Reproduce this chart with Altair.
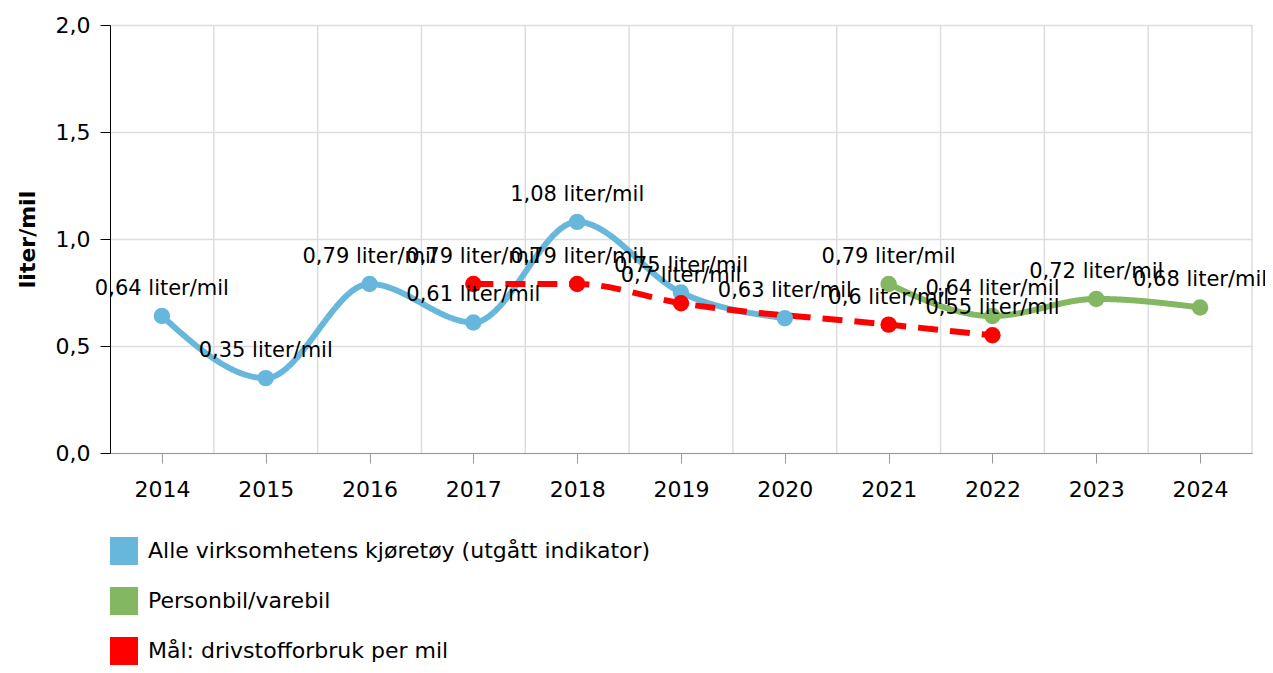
import altair as alt
import pandas as pd

years = [2014, 2015, 2016, 2017, 2018, 2019, 2020, 2021, 2022, 2023, 2024]

s_all = "Alle virksomhetens kjøretøy (utgått indikator)"
s_pb = "Personbil/varebil"
s_goal = "Mål: drivstofforbruk per mil"

all_years = [2014, 2015, 2016, 2017, 2018, 2019, 2020]
all_vals = [0.64, 0.35, 0.79, 0.61, 1.08, 0.75, 0.63]

pb_years = [2021, 2022, 2023, 2024]
pb_vals = [0.79, 0.64, 0.72, 0.68]

goal_years = [2017, 2018, 2019, 2021, 2022]
goal_vals = [0.79, 0.79, 0.70, 0.60, 0.55]

series = [s_all, s_pb, s_goal]
colors = ["#67b7dc", "#84b761", "#ff0000"]
dashes = [[1, 0], [1, 0], [20, 12]]

rows = []
for name, ys, vs in [(s_all, all_years, all_vals), (s_pb, pb_years, pb_vals), (s_goal, goal_years, goal_vals)]:
    for y, v in zip(ys, vs):
        rows.append({"year": y, "value": v, "series": name})
df = pd.DataFrame(rows)

grid_df = pd.DataFrame({"g": [y + 0.5 for y in years]})

FONT = "DejaVu Sans"

xscale = alt.Scale(domain=[years[0] - 0.5, years[-1] + 0.5], nice=False, zero=False)
yscale = alt.Scale(domain=[0, 2], nice=False)
cscale = alt.Scale(domain=series, range=colors)

legend = alt.Legend(title=None, orient="none", legendX=0, legendY=512,
                    direction="vertical", symbolType="square", symbolSize=784,
                    symbolStrokeWidth=0, symbolOpacity=1, labelFontSize=22, labelFont=FONT,
                    labelColor="#000", labelOffset=10, rowPadding=22,
                    labelLimit=800, padding=0)

x_enc = alt.X("year:Q", scale=xscale, title=None,
              axis=alt.Axis(values=years, format="d", grid=False, labelFontSize=22, labelFont=FONT,
                            labelColor="#000", tickColor="#999", domainColor="#999", tickSize=10,
                            labelPadding=16, labelFlush=False))
y_enc = alt.Y("value:Q", scale=yscale, title="liter/mil",
              axis=alt.Axis(values=[0, 0.5, 1.0, 1.5, 2.0],
                            labelExpr="replace(format(datum.value, '.1f'), '.', ',')",
                            labelFontSize=22, labelFont=FONT, labelColor="#000",
                            titleFontSize=22, titleFont=FONT, titleFontWeight="bold", titleColor="#000",
                            titlePadding=16, tickSize=10, tickColor="#000", domainColor="#000",
                            labelPadding=10, gridColor="#dddddd", gridWidth=1.5))

grid = alt.Chart(grid_df).mark_rule(color="#dddddd", strokeWidth=1.5).encode(
    x=alt.X("g:Q", scale=xscale)
)

base = alt.Chart(df)

lines = base.mark_line(interpolate="monotone", strokeWidth=6).encode(
    x=x_enc,
    y=y_enc,
    color=alt.Color("series:N", scale=cscale, legend=legend),
    strokeDash=alt.StrokeDash("series:N", scale=alt.Scale(domain=series, range=dashes), legend=None),
    detail="series:N",
)

points = base.mark_point(filled=True, size=270, opacity=1).encode(
    x="year:Q",
    y="value:Q",
    color=alt.Color("series:N", scale=cscale, legend=legend),
)

labels = base.transform_calculate(
    lab="replace(toString(datum.value), '.', ',') + ' liter/mil'"
).mark_text(fontSize=21, font=FONT, color="#000", dy=-27, baseline="middle").encode(
    x="year:Q",
    y="value:Q",
    text="lab:N",
)

chart = alt.layer(grid, lines, points, labels).properties(
    width=1142, height=428,
    autosize=alt.AutoSizeParams(type="none"),
    padding={"left": 102, "top": 17, "right": 13, "bottom": 212},
).configure_view(stroke=None).configure_axis(labelFont=FONT)

chart.save("out.html", embed_options={"renderer": "svg", "actions": False})
